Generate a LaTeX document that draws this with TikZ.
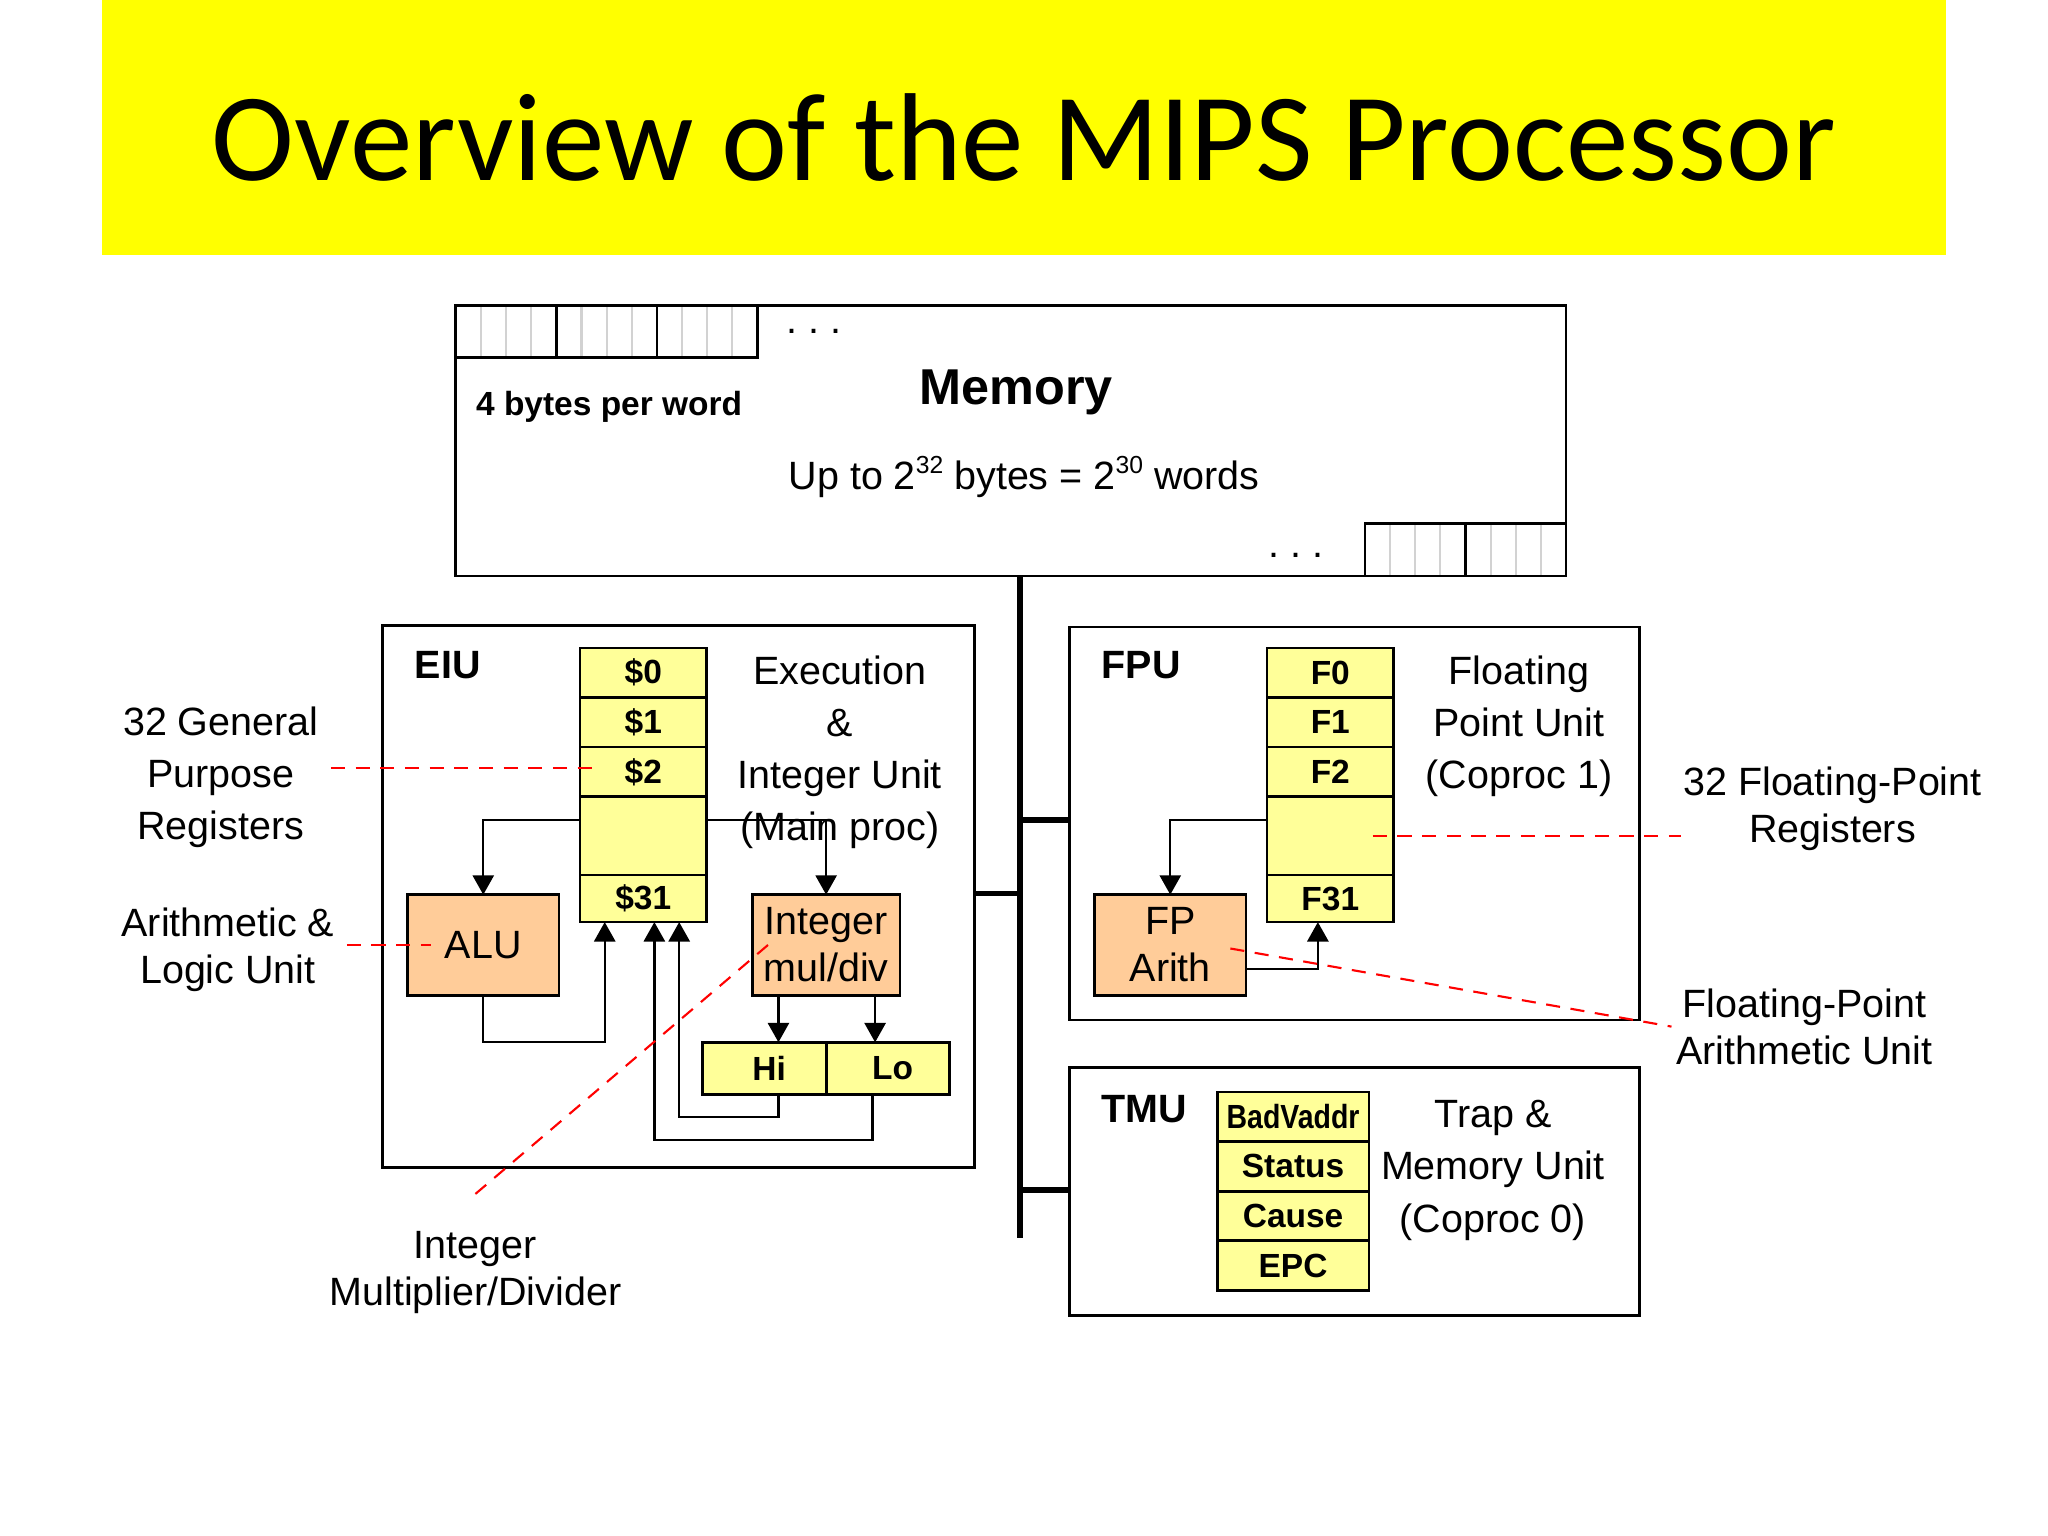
\documentclass[tikz,border=0pt]{standalone}
\usepackage{fontspec}
\setmainfont{Liberation Sans}
\newfontfamily\titlefont{Carlito}
\usetikzlibrary{arrows.meta, positioning}
\newcommand{\pxu}{0.3706pt}
\newcommand{\lbl}{\fontsize{11.2}{14.8}\selectfont}
\newcommand{\lbltight}{\fontsize{11.2}{13.3}\selectfont}
\newcommand{\supnum}[1]{\raisebox{0.8ex}{\fontsize{7}{8}\selectfont #1}}
\definecolor{titleyellow}{HTML}{FFFF00}
\definecolor{regyellow}{HTML}{FFFF99}
\definecolor{unitpeach}{HTML}{FFCC99}
\tikzset{>={Triangle[length=5.5pt,width=6pt]},
    unit/.style={draw, line width=0.8pt, inner sep=0pt, outer sep=0pt},
    reg/.style={draw, fill=regyellow, line width=0.75pt, inner sep=0pt, outer sep=0pt,
        minimum width=97*\pxu, minimum height=38*\pxu,
        font=\bfseries\fontsize{9.5}{11}\selectfont},
    arith/.style={draw, fill=unitpeach, line width=0.75pt, inner sep=0pt, outer sep=0pt,
        minimum width=116*\pxu, minimum height=77*\pxu, align=center, font=\lbltight},
    word/.style={draw, line width=0.8pt, inner sep=0pt, outer sep=0pt,
        minimum width=77*\pxu, minimum height=40*\pxu,
        path picture={\foreach \b in {0.25,0.5,0.75}
            \draw[gray!35, line width=0.6pt]
                ([xshift=\b*77*\pxu]path picture bounding box.south west) --
                ([xshift=\b*77*\pxu]path picture bounding box.north west);}},
    wire/.style={->, line width=0.65pt},
    bus/.style={line width=1.6pt},
    note/.style={align=center, font=\lbl},
    notetight/.style={align=center, font=\lbltight},
    heading/.style={font=\bfseries\lbl, anchor=west, inner sep=0pt},
    pointer/.style={red, line width=0.6pt, dash pattern=on 4pt off 3pt}}
\begin{document}
\begin{tikzpicture}[x=\pxu, y=-\pxu]
\useasboundingbox (0,0) rectangle (1568,1176);
\fill[titleyellow] (78,0) rectangle (1490,195);
\node[font=\titlefont\fontsize{35.5}{40}\selectfont, anchor=base] (title) at (784,138) {Overview of the MIPS Processor};

\node[unit, minimum width=850*\pxu, minimum height=207*\pxu] (mem) at (774,337.5) {};
\node[word, anchor=north west] (w1) at (349,234) {};
\node[word, right=0pt of w1] (w2) {};
\node[word, right=0pt of w2] (w3) {};
\node[word, anchor=south east] (w5) at (1199,441) {};
\node[word, left=0pt of w5] (w4) {};
\node[font=\lbl, anchor=west, inner sep=0pt] (dotsa) at ([xshift=22*\pxu]w3.east) {.\ .\ .};
\node[font=\lbl, anchor=east, inner sep=0pt] (dotsb) at ([xshift=-31*\pxu, yshift=-1.5pt]w4.west) {.\ .\ .};
\node[font=\bfseries\fontsize{9.5}{11}\selectfont, anchor=base west, inner sep=0pt] (bpw) at (364,317.8) {4 bytes per word};
\node[font=\bfseries\fontsize{14.3}{16}\selectfont, anchor=base] (memtitle) at (778,310) {Memory};
\node[font=\lbl, anchor=base] (memsize) at (784,375) {Up to 2\supnum{32} bytes = 2\supnum{30} words};

\node[unit, minimum width=453*\pxu, minimum height=415*\pxu] (eiu) at (519.5,686.5) {};
\node[unit, minimum width=436*\pxu, minimum height=301*\pxu] (fpu) at (1037,630.5) {};
\node[unit, minimum width=436*\pxu, minimum height=190*\pxu] (tmu) at (1037,912) {};
\node[heading] at (317,509) {EIU};
\node[heading] at (843,509) {FPU};
\node[heading] at (843,849) {TMU};

\coordinate (bustop) at (mem.south -| 781,0);
\coordinate (busbot) at (781,948);
\draw[bus] (bustop) -- (busbot);
\draw[bus] (eiu.east |- 0,684) -- (bustop |- 0,684);
\draw[bus] (fpu.west |- 0,628) -- (bustop |- 0,628);
\draw[bus] (tmu.west |- 0,911) -- (bustop |- 0,911);

\node[reg, anchor=north] (r0) at (492.5,496) {\$0};
\node[reg, below=0pt of r0] (r1) {\$1};
\node[reg, below=0pt of r1] (r2) {\$2};
\node[reg, below=0pt of r2, minimum height=60*\pxu] (rmid) {};
\node[reg, below=0pt of rmid, minimum height=36*\pxu] (r31) {\$31};
\node[note] (eiutext) at (643,576) {Execution\\\&\\Integer Unit\\(Main proc)};
\node[arith, anchor=north west] (alu) at (312,685) {ALU};
\node[arith, anchor=north west, minimum width=113*\pxu] (muldiv) at (576,685) {Integer\\mul/div};
\node[reg, anchor=north west, minimum width=95*\pxu, minimum height=40*\pxu] (hi) at (538,798) {\hspace{2.5pt}Hi};
\node[reg, right=0pt of hi, minimum width=94*\pxu, minimum height=40*\pxu] (lo) {\hspace{2.5pt}Lo};
\draw[wire] (rmid.west |- 0,628) -| (alu.north);
\draw[wire] (rmid.east |- 0,628) -| (muldiv.north);
\draw[wire] (alu.south) |- (463,798) -- (r31.south -| 463,0);
\draw[wire] (muldiv.south -| 596,0) -- (hi.north -| 596,0);
\draw[wire] (muldiv.south -| 670,0) -- (lo.north -| 670,0);
\draw[wire] (hi.south -| 596,0) |- (520,855) -- (r31.south -| 520,0);
\draw[wire] (lo.south -| 668,0) |- (501,873) -- (r31.south -| 501,0);

\node[reg, anchor=north] (f0) at (1018.5,496) {F0};
\node[reg, below=0pt of f0] (f1) {F1};
\node[reg, below=0pt of f1] (f2) {F2};
\node[reg, below=0pt of f2, minimum height=60*\pxu] (fmid) {};
\node[reg, below=0pt of fmid, minimum height=36*\pxu] (f31) {F31};
\node[note] (fputext) at (1163,556) {Floating\\Point Unit\\(Coproc 1)};
\node[arith, anchor=north west] (fparith) at (838,685) {FP\\Arith};
\draw[wire] (fmid.west |- 0,628) -| (fparith.north);
\draw[wire] (fparith.east |- 0,742) -| (f31.south -| 1009,0);

\node[reg, anchor=north, minimum width=116*\pxu] (badv) at (990,836) {\scalebox{0.85}[1]{BadVaddr}};
\node[reg, below=0pt of badv, minimum width=116*\pxu] (status) {Status};
\node[reg, below=0pt of status, minimum width=116*\pxu] (cause) {Cause};
\node[reg, below=0pt of cause, minimum width=116*\pxu] (epc) {EPC};
\node[note] (tmutext) at (1143,896) {Trap \&\\Memory Unit\\(Coproc 0)};

\node[note] (gpr) at (169,595) {32 General\\Purpose\\Registers};
\node[notetight] (alun) at (174.5,727) {Arithmetic \&\\Logic Unit};
\node[notetight] (imd) at (364,974) {Integer\\Multiplier/Divider};
\node[notetight] (fpr) at (1403,619) {32 Floating-Point\\Registers};
\node[notetight] (fpa) at (1381.5,786) {Floating-Point\\Arithmetic Unit};
\draw[pointer] (gpr.east |- 0,588) -- (457,588);
\draw[pointer] (alun.east |- alu.west) -- ([xshift=18*\pxu]alu.west);
\draw[pointer] ([yshift=7pt]imd.north) -- ([xshift=12*\pxu]muldiv.west);
\draw[pointer] ([xshift=32.5*\pxu]fmid.center) -- ([xshift=8*\pxu]fpr.west |- fmid.center);
\draw[pointer] ([xshift=46*\pxu, yshift=-1pt]fparith.center) -- ([xshift=6*\pxu]fpa.west);
\end{tikzpicture}
\end{document}
